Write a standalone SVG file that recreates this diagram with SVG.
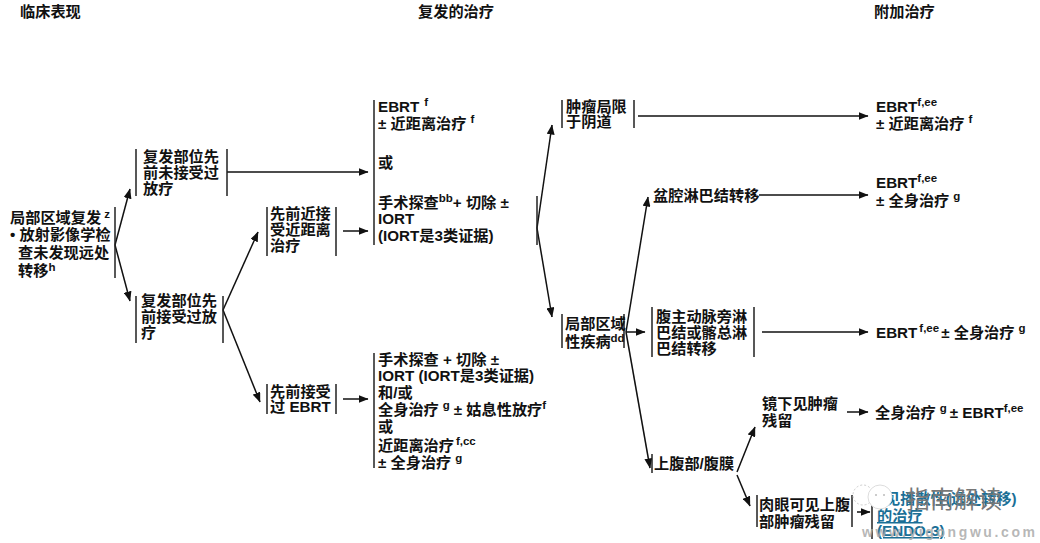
<svg xmlns="http://www.w3.org/2000/svg" width="1040" height="543" viewBox="0 0 1040 543">
<style>
text{font-family:"Liberation Sans","Noto Sans CJK SC",sans-serif;font-size:15.2px;font-weight:700;fill:#111}
.s{font-size:11.5px;font-weight:700}
.b{stroke:#222;stroke-width:1.5;fill:none}
.c{stroke:#111;stroke-width:1.5;fill:none;marker-end:url(#a)}
.l{fill:#1b6f96}
.lu{fill:#1b6f96;text-decoration:underline}
.w{fill:#777;font-weight:400;font-size:24px}
.u{fill:#aaa;fill-opacity:.85;font-size:14px}
</style>
<defs><marker id="a" viewBox="0 0 10 8" refX="9.5" refY="4" markerWidth="10" markerHeight="8" markerUnits="userSpaceOnUse" orient="auto"><path d="M0 0L10 4L0 8Z" fill="#111"/></marker></defs>
<rect width="1040" height="543" fill="#fff"/>
<g id="headers"><text x="20" y="17">临床表现</text><text x="418" y="17">复发的治疗</text><text x="874" y="17">附加治疗</text></g>
<g id="connectors">
<path class="c" d="M115 245L130 189"/><path class="c" d="M115 245L130 301"/>
<path class="c" d="M227 172H368"/><path class="c" d="M223 310L258 232"/><path class="c" d="M223 310L260 402"/>
<path class="c" d="M343 231H368"/><path class="c" d="M343 399H368"/>
<path class="c" d="M537 228L552 125"/><path class="c" d="M537 228L552 317"/>
<path class="c" d="M638 116H868"/><path class="c" d="M759 195H868"/><path class="c" d="M762 332H868"/>
<path class="c" d="M626 332H645"/><path class="c" d="M626 332L648 197"/><path class="c" d="M626 332L650 468"/>
<path class="c" d="M737 472L755 427"/><path class="c" d="M737 475L750 506"/>
<path class="c" d="M847 412H868"/><path class="c" d="M857 512H870"/>
</g>
<g id="n-local"><path class="b" d="M115 207V278"/><text x="10" y="223">局部区域复发<tspan class="s" dx="3" dy="-5">z</tspan></text><text x="10" y="240">• 放射影像学检</text><text x="18" y="258">查未发现远处</text><text x="18" y="276">转移<tspan class="s" dy="-5">h</tspan></text></g>
<g id="n-unirradiated"><path class="b" d="M136 149V196M227 149V196"/><text x="143" y="162">复发部位先</text><text x="143" y="178">前未接受过</text><text x="143" y="194">放疗</text></g>
<g id="n-irradiated"><path class="b" d="M136 296V343M223 296V343"/><text x="141" y="306">复发部位先</text><text x="141" y="322">前接受过放</text><text x="141" y="338">疗</text></g>
<g id="n-brachy"><path class="b" d="M267 207V256M336 207V256"/><text x="270" y="219">先前近接</text><text x="270" y="235">受近距离</text><text x="270" y="251">治疗</text></g>
<g id="n-ebrt"><path class="b" d="M267 384V414M336 384V414"/><text x="270" y="397">先前接受</text><text x="270" y="412">过 EBRT</text></g>
<g id="n-tx1"><path class="b" d="M374 100V245"/><text x="378" y="112">EBRT<tspan class="s" dx="5" dy="-6">f</tspan></text><text x="378" y="129">± 近距离治疗<tspan class="s" dx="4" dy="-6">f</tspan></text><text x="378" y="168">或</text><text x="378" y="208">手术探查<tspan class="s" dy="-6">bb</tspan><tspan dy="6">+ 切除 ±</tspan></text><text x="378" y="224">IORT</text><text x="378" y="241">(IORT是3类证据)</text></g>
<g id="n-tx2"><path class="b" d="M374 353V468"/><text x="378" y="365">手术探查 + 切除 ±</text><text x="378" y="381">IORT (IORT是3类证据)</text><text x="378" y="398">和/或</text><text x="378" y="415">全身治疗<tspan class="s" dx="4" dy="-6">g</tspan><tspan dx="4" dy="6">± 姑息性放疗</tspan><tspan class="s" dy="-6">f</tspan></text><text x="378" y="432">或</text><text x="378" y="451">近距离治疗<tspan class="s" dx="2" dy="-6">f,cc</tspan></text><text x="378" y="468">± 全身治疗<tspan class="s" dx="4" dy="-6">g</tspan></text></g>
<g id="n-split"><path class="b" d="M537 196V245"/></g>
<g id="n-vagina"><path class="b" d="M562 100V128M634 100V128"/><text x="566" y="112">肿瘤局限</text><text x="566" y="127">于阴道</text></g>
<g id="n-regional"><path class="b" d="M562 314V348M624 314V348"/><text x="565" y="329">局部区域</text><text x="565" y="347">性疾病<tspan class="s" dy="-5">dd</tspan></text></g>
<g id="n-pelvic"><text x="653" y="201">盆腔淋巴结转移</text></g>
<g id="n-aortic"><path class="b" d="M652 307V357M754 307V357"/><text x="656" y="322">腹主动脉旁淋</text><text x="656" y="338">巴结或髂总淋</text><text x="656" y="354">巴结转移</text></g>
<g id="n-upper"><path class="b" d="M652 454V473"/><text x="654" y="469">上腹部/腹膜</text></g>
<g id="n-micro"><text x="762" y="409">镜下见肿瘤</text><text x="762" y="426">残留</text></g>
<g id="n-gross"><path class="b" d="M757 495V527M852 495V527"/><text x="759" y="510">肉眼可见上腹</text><text x="759" y="527">部肿瘤残留</text></g>
<g id="r1"><text x="876" y="112">EBRT<tspan class="s" dy="-6">f,ee</tspan></text><text x="876" y="129">± 近距离治疗<tspan class="s" dx="4" dy="-6">f</tspan></text></g>
<g id="r2"><text x="876" y="188">EBRT<tspan class="s" dy="-6">f,ee</tspan></text><text x="876" y="206">± 全身治疗<tspan class="s" dx="4" dy="-6">g</tspan></text></g>
<g id="r3"><text x="876" y="338">EBRT<tspan class="s" dx="2" dy="-6">f,ee</tspan><tspan dx="2" dy="6">± 全身治疗</tspan><tspan class="s" dx="4" dy="-6">g</tspan></text></g>
<g id="r4"><text x="875" y="418">全身治疗<tspan class="s" dx="4" dy="-6">g</tspan><tspan dx="3" dy="6">± EBRT</tspan><tspan class="s" dy="-6">f,ee</tspan></text></g>
<g id="r5"><path class="b" d="M872 495V539"/><text class="l" x="885" y="504">见播散性(远处转移)</text><text class="lu" x="877" y="521">的治疗</text><text class="lu" x="877" y="536">(ENDO-3)</text></g>
<g id="watermark">
<circle cx="863" cy="495" r="10" fill="none" stroke="#ccc" stroke-width="1" stroke-dasharray="2 2"/>
<circle cx="880" cy="497" r="12" fill="#fff" stroke="#ddd" stroke-width="1"/>
<circle cx="876" cy="495" r="1" fill="#bbb"/><circle cx="884" cy="495" r="1" fill="#bbb"/>
<text class="w" x="906" y="508">指南解读</text><text class="u" x="862" y="537" textLength="173" lengthAdjust="spacing">www.yigongwu.com</text></g>
</svg>
